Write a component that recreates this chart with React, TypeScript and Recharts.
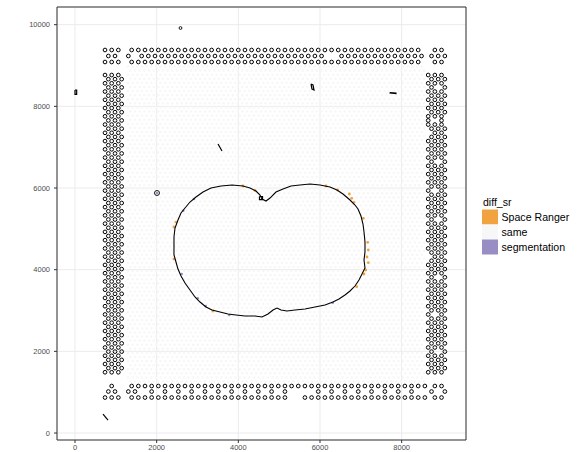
import React from 'react';
import { ScatterChart, Scatter, XAxis, YAxis, CartesianGrid, ReferenceArea } from 'recharts';

// ---------- axes ----------
const X_TICKS = [0, 2000, 4000, 6000, 8000];
const Y_TICKS = [0, 2000, 4000, 6000, 8000, 10000];
const X_DOMAIN: [number, number] = [-441, 9576];
const Y_DOMAIN: [number, number] = [-171, 10433];

// ---------- legend ----------
const LEGEND_TITLE = 'diff_sr';
const LEGEND_LABELS = ['Space Ranger', 'same', 'segmentation'];
const LEGEND_COLORS = ['#f1a340', '#f7f7f7', '#998ec3'];

// ---------- Visium spot array (array_row 0..77, array_col 0..127, hex) ----------
const SPOT_N_ROWS = 78;
const SPOT_N_COLS = 128;
const SPOT_ORIGIN = [1298, 8976]; // image coords of array_row 0 / array_col 0
const SPOT_PITCH = [57.1, 100.2]; // image units per array_col / array_row

// spots called in tissue only by Space Ranger
const SR_ONLY = [
  [4114, 6049], [4408, 5939], [2473, 5167], [2424, 5045], [2424, 4261], [3380, 2988],
  [6147, 6049], [6433, 5951], [6718, 5853], [6776, 5748], [6833, 5650], [7061, 5258],
  [7168, 4670], [7183, 4482], [7151, 4310], [7183, 4171], [7119, 3992], [7078, 3894],
  [6899, 3583],
];
// spots called in tissue only by segmentation
const SEG_ONLY = [
  [2008, 5878], [2914, 5731], [2652, 5444], [2613, 3894], [3005, 3299], [3201, 3110],
  [3779, 2890], [6311, 3191],
];

// ---------- segmentation outlines ----------
const TISSUE_OUTLINE = [
  [2424, 4800], [2449, 5020], [2522, 5216], [2596, 5388], [2694, 5510], [2816, 5657],
  [2963, 5780], [3135, 5902], [3331, 6000], [3576, 6049], [3845, 6074], [4114, 6049],
  [4286, 6000], [4433, 5927], [4531, 5829], [4580, 5731], [4678, 5682], [4776, 5755],
  [4922, 5902], [5094, 5976], [5290, 6049], [5510, 6074], [5755, 6098], [6000, 6074],
  [6245, 6025], [6416, 5951], [6563, 5853], [6735, 5706], [6857, 5584], [6931, 5486],
  [7004, 5314], [7053, 5118], [7078, 4922], [7102, 4678], [7102, 4433], [7078, 4237],
  [7102, 4041], [7029, 3894], [6955, 3747], [6857, 3600], [6735, 3478], [6612, 3380],
  [6465, 3282], [6318, 3208], [6122, 3135], [5878, 3086], [5633, 3037], [5388, 3012],
  [5192, 2988], [5045, 3012], [4947, 3061], [4849, 3012], [4727, 2914], [4580, 2841],
  [4408, 2865], [4163, 2865], [3943, 2890], [3747, 2914], [3551, 2963], [3355, 3012],
  [3208, 3086], [3061, 3208], [2939, 3331], [2816, 3502], [2694, 3674], [2596, 3845],
  [2522, 4016], [2473, 4188], [2424, 4359], [2424, 4580], [2424, 4800],
];
const STRAY_PATHS = [
  [[0, 8400], [41, 8400], [41, 8295], [0, 8295], [0, 8400]],
  [[3502, 7078], [3600, 6906]],
  [[5780, 8547], [5829, 8523], [5853, 8400], [5804, 8425], [5780, 8547]],
  [[7714, 8339], [7861, 8327], [7861, 8314], [7714, 8327], [7714, 8339]],
  [[686, 465], [808, 318]],
  [[4518, 5792], [4592, 5792], [4592, 5718], [4518, 5718], [4518, 5792]],
];
const STRAY_RING_SMALL = [[2584, 9918]];
const STRAY_RING_LARGE = [[2008, 5878]];

// ---------- fiducial frame (detected as objects by segmentation) ----------
const FID_X0 = 735; // image x of fiducial half-column 0
const FID_DX = 81.6; // image units per fiducial half-column
const FID_TOP_Y = [9380, 9233, 9086];
const FID_TOP_RUNS = [
  [[0, 4, 2], [8, 94, 2], [99, 101, 2]],
  [[1, 3, 2], [7, 7, 1], [11, 65, 2], [71, 95, 2], [98, 102, 2]],
  [[0, 4, 2], [8, 94, 2], [99, 101, 2]],
];
const FID_BOTTOM_Y = [1151, 1016, 869];
const FID_BOTTOM_RUNS = [
  [[2, 2, 1], [8, 96, 2], [99, 101, 2]],
  [[1, 3, 2], [7, 9, 2], [14, 54, 4], [64, 92, 4], [98, 102, 4]],
  [[0, 4, 2], [8, 54, 2], [60, 96, 2], [99, 101, 2]],
];
const FID_SIDE_Y0 = 8767;
const FID_SIDE_DY = 101.1;
const FID_LEFT_ROWS = 'ABABABABAB' + 'ABABABABAB' + 'ABABABABAB' + 'ABABABABAB' + 'ABABABABAB' + 'ABABABABAB' + 'ABABABABAB' + 'ABA';
const FID_RIGHT_ROWS = 'ABAbABABAB' + 'AaABcBABAB' + 'AbABABABaB' + 'ABABAbABAB' + 'ABABcBABAb' + 'ABABABABaB' + 'ABABABAbAB' + 'ABA';
const FID_LEFT_COLS: Record<string, number[]> = { A: [0, 2, 4], B: [1, 3, 5] };
const FID_RIGHT_COLS: Record<string, number[]> = {
  A: [97, 99, 101], B: [98, 100, 102], a: [97, 101], b: [98, 102], c: [99, 101],
};

// ---------- build tables ----------
const pts = (arr: number[][]) => arr.map(([x, y]) => ({ x, y }));

const spots: { x: number; y: number }[] = [];
for (let r = 0; r < SPOT_N_ROWS; r++) {
  for (let c = r % 2; c < SPOT_N_COLS; c += 2) {
    spots.push({ x: SPOT_ORIGIN[0] + c * SPOT_PITCH[0], y: SPOT_ORIGIN[1] - r * SPOT_PITCH[1] });
  }
}

const expandRuns = (runs: number[][]) => {
  const out: number[] = [];
  runs.forEach(([a, b, s]) => {
    for (let k = a; k <= b; k += s) out.push(k);
  });
  return out;
};
const fiducials: { x: number; y: number }[] = [];
FID_TOP_Y.forEach((y, i) => expandRuns(FID_TOP_RUNS[i]).forEach((k) => fiducials.push({ x: FID_X0 + k * FID_DX, y })));
FID_BOTTOM_Y.forEach((y, i) => expandRuns(FID_BOTTOM_RUNS[i]).forEach((k) => fiducials.push({ x: FID_X0 + k * FID_DX, y })));
FID_LEFT_ROWS.split('').forEach((ch, j) => {
  const y = FID_SIDE_Y0 - j * FID_SIDE_DY;
  (FID_LEFT_COLS[ch] || []).forEach((k) => fiducials.push({ x: FID_X0 + k * FID_DX, y }));
});
FID_RIGHT_ROWS.split('').forEach((ch, j) => {
  const y = FID_SIDE_Y0 - j * FID_SIDE_DY;
  (FID_RIGHT_COLS[ch] || []).forEach((k) => fiducials.push({ x: FID_X0 + k * FID_DX, y }));
});

// ---------- shapes ----------
const noShape = () => <g />;
const spotShape = (p: any) => <circle cx={p.cx} cy={p.cy} r={1.3} fill={LEGEND_COLORS[1]} />;
const srShape = (p: any) => <circle cx={p.cx} cy={p.cy} r={1.4} fill={LEGEND_COLORS[0]} />;
const segShape = (p: any) => <circle cx={p.cx} cy={p.cy} r={1.3} fill={LEGEND_COLORS[2]} />;
const fidShape = (p: any) => <circle cx={p.cx} cy={p.cy} r={1.85} fill="none" stroke="#000" strokeWidth={1} />;
const ringSmall = (p: any) => <circle cx={p.cx} cy={p.cy} r={1.4} fill="none" stroke="#000" strokeWidth={0.9} />;
const ringLarge = (p: any) => <circle cx={p.cx} cy={p.cy} r={2.5} fill="none" stroke="#000" strokeWidth={0.9} />;

const FONT = '"Liberation Sans", Arial, Helvetica, sans-serif';

export default function App() {
  return (
    <div style={{ position: 'absolute', left: 0, top: 0, width: 582, height: 452, background: '#fff', fontFamily: FONT }}>
      <ScatterChart width={582} height={452} margin={{ top: 7, right: 116, bottom: 0, left: 0 }}>
        <CartesianGrid stroke="#ebebeb" strokeWidth={1} />
        <XAxis
          type="number"
          dataKey="x"
          domain={X_DOMAIN}
          allowDataOverflow
          ticks={X_TICKS}
          interval={0}
          height={12}
          tickSize={3}
          tickMargin={2}
          axisLine={false}
          tickLine={{ stroke: '#333333' }}
          tick={{ fontSize: 7.5, fill: '#4d4d4d', fontFamily: FONT }}
        />
        <YAxis
          type="number"
          dataKey="y"
          domain={Y_DOMAIN}
          allowDataOverflow
          ticks={Y_TICKS}
          interval={0}
          width={57}
          tickSize={3}
          tickMargin={4}
          axisLine={false}
          tickLine={{ stroke: '#333333' }}
          tick={{ fontSize: 7.5, fill: '#4d4d4d', fontFamily: FONT }}
        />
        <Scatter data={spots} shape={spotShape} isAnimationActive={false} />
        <Scatter data={fiducials} shape={fidShape} isAnimationActive={false} />
        <Scatter data={pts(SR_ONLY)} shape={srShape} isAnimationActive={false} />
        <Scatter data={pts(SEG_ONLY)} shape={segShape} isAnimationActive={false} />
        <Scatter
          data={pts(TISSUE_OUTLINE)}
          line={{ stroke: '#000', strokeWidth: 1.1 }}
          lineType="joint"
          shape={noShape}
          isAnimationActive={false}
        />
        {STRAY_PATHS.map((path, i) => (
          <Scatter
            key={'stray' + i}
            data={pts(path)}
            line={{ stroke: '#000', strokeWidth: 1.2 }}
            lineType="joint"
            shape={noShape}
            isAnimationActive={false}
          />
        ))}
        <Scatter data={pts(STRAY_RING_SMALL)} shape={ringSmall} isAnimationActive={false} />
        <Scatter data={pts(STRAY_RING_LARGE)} shape={ringLarge} isAnimationActive={false} />
        <ReferenceArea
          x1={X_DOMAIN[0]}
          x2={X_DOMAIN[1]}
          y1={Y_DOMAIN[0]}
          y2={Y_DOMAIN[1]}
          fill="none"
          fillOpacity={0}
          stroke="#333333"
          strokeWidth={1}
          ifOverflow="visible"
        />
        <g>
          <text x={483} y={206} fontSize={10.5} fill="#000" fontFamily={FONT}>
            {LEGEND_TITLE}
          </text>
          {LEGEND_LABELS.map((label, i) => (
            <g key={label}>
              <rect x={482} y={209.5 + 15 * i} width={16} height={15} fill={LEGEND_COLORS[i]} />
              <text x={501.5} y={220.8 + 15 * i} fontSize={10.6} fill="#000" fontFamily={FONT}>
                {label}
              </text>
            </g>
          ))}
        </g>
      </ScatterChart>
    </div>
  );
}
